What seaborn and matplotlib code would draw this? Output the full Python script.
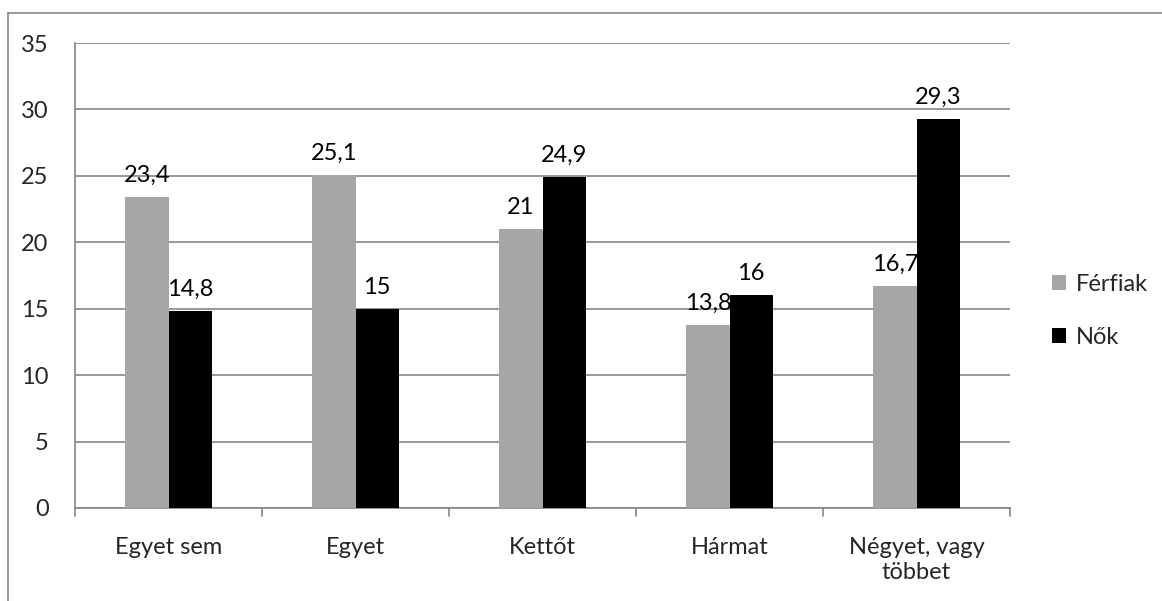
import matplotlib
matplotlib.use("Agg")
import matplotlib.pyplot as plt
import seaborn as sns
import pandas as pd

categories = ["Egyet sem", "Egyet", "Kettőt", "Hármat", "Négyet, vagy\ntöbbet"]
ferfiak = [23.4, 25.1, 21.0, 13.8, 16.7]
nok = [14.8, 15.0, 24.9, 16.0, 29.3]
series = ["Férfiak", "Nők"]
colors = ["#A6A6A6", "#000000"]

df = pd.DataFrame({
    "kategoria": categories * 2,
    "ertek": ferfiak + nok,
    "nem": [series[0]] * len(categories) + [series[1]] * len(categories),
})

sns.set_theme(style="white")
plt.rcParams["font.family"] = ["Lato", "DejaVu Sans"]

fig = plt.figure(figsize=(11.62, 6.01), dpi=100)
ax = fig.add_axes([75 / 1162, 1 - 508 / 601, (1010 - 75) / 1162, (508 - 43) / 601])

sns.barplot(data=df, x="kategoria", y="ertek", hue="nem", palette=colors,
            width=0.46, saturation=1, ax=ax, edgecolor="none", zorder=3)

grid_c = "#868686"
fs = 17
ax.set_ylim(0, 35)
ax.set_yticks(range(0, 36, 5))
ax.set_xlim(-0.5, len(categories) - 0.5)
ax.yaxis.grid(True, color=grid_c, linewidth=1.2, zorder=0)
ax.set_axisbelow(True)
for s in ["top", "right"]:
    ax.spines[s].set_visible(False)
for s in ["left", "bottom"]:
    ax.spines[s].set_color(grid_c)
    ax.spines[s].set_linewidth(1.2)

ax.set_xlabel("")
ax.set_ylabel("")
ax.tick_params(axis="y", length=5, width=1.2, color=grid_c, labelsize=fs, pad=14)
ax.set_xticks(range(len(categories)))
ax.set_xticklabels(categories, fontsize=fs, linespacing=1.2)
ax.tick_params(axis="x", length=0, labelsize=fs, pad=21)
# category boundary tick marks below the x axis
for b in [i - 0.5 for i in range(len(categories) + 1)]:
    ax.plot([b, b], [0, -0.6], color=grid_c, lw=1.2, clip_on=False, zorder=4)

for cont in ax.containers:
    labels = [f"{v:g}".replace(".", ",") for v in cont.datavalues]
    ax.bar_label(cont, labels=labels, padding=8, fontsize=fs, color="black")

leg = ax.legend(loc="center left", bbox_to_anchor=(1.022, 0.424), frameon=False,
                fontsize=fs, handlelength=0.6, handleheight=0.6,
                handletextpad=0.4, labelspacing=1.35)

# outer chart frame
fig.add_artist(plt.Line2D([8 / 1162, 8 / 1162], [0, 1 - 13 / 601],
                          transform=fig.transFigure, color=grid_c, lw=1.2))
fig.add_artist(plt.Line2D([8 / 1162, 1], [1 - 13 / 601, 1 - 13 / 601],
                          transform=fig.transFigure, color=grid_c, lw=1.2))

fig.savefig("out.png", dpi=100)
